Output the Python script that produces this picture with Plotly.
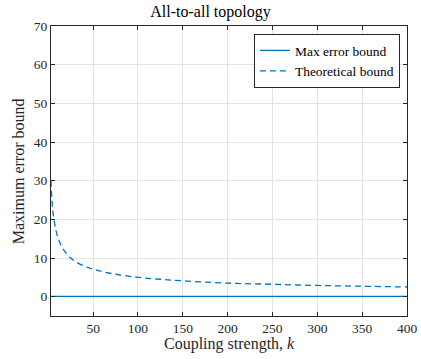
import plotly.graph_objects as go

k_vals = [3, 4, 5, 6, 8, 10, 13, 16, 20, 25, 30, 40, 50, 60, 75, 100, 125, 150, 200, 250, 300, 350, 400]
theoretical = [30, 25, 22.4, 20.4, 17.7, 15.8, 13.9, 12.5, 11.2, 10, 9.1, 7.9, 7.1, 6.5, 5.8, 5.0, 4.5, 4.1, 3.5, 3.2, 2.9, 2.7, 2.5]
max_error = [0.05] * len(k_vals)

x_ticks = [50, 100, 150, 200, 250, 300, 350, 400]
y_ticks = [0, 10, 20, 30, 40, 50, 60, 70]

blue = "#0072BD"
font_family = "Liberation Serif"

fig = go.Figure()
fig.add_trace(go.Scatter(x=k_vals, y=max_error, mode="lines", name="Max error bound",
                         line=dict(color=blue, width=1.3)))
fig.add_trace(go.Scatter(x=k_vals, y=theoretical, mode="lines", name="Theoretical bound",
                         line=dict(color=blue, width=1.3, dash="6px,4px"), line_shape="spline"))

axis_common = dict(showline=True, linecolor="#262626", linewidth=1, mirror="allticks",
                   ticks="inside", ticklen=4, tickcolor="#262626", automargin=False,
                   showgrid=True, gridcolor="#e3e3e3", gridwidth=1, zeroline=False,
                   tickfont=dict(family=font_family, size=13.5, color="#262626"))

fig.update_layout(
    width=421, height=359,
    margin=dict(l=51, r=14, t=26, b=43),
    paper_bgcolor="white", plot_bgcolor="white",
    font=dict(family=font_family, color="#262626"),
    title=dict(text="All-to-all topology", x=0.5, xanchor="center", y=0.985, yanchor="top",
               font=dict(family=font_family, size=16, color="#000000")),
    xaxis=dict(range=[3, 400], tickvals=x_ticks, **axis_common),
    yaxis=dict(range=[-5, 70], tickvals=y_ticks, **axis_common),
    annotations=[
        dict(text="Coupling strength, <i>k</i>", xref="paper", yref="paper", x=0.5, y=-0.06,
             xanchor="center", yanchor="top", showarrow=False,
             font=dict(family=font_family, size=16, color="#262626")),
        dict(text="Maximum error bound", xref="paper", yref="paper", x=-0.092, y=0.5,
             xanchor="center", yanchor="middle", textangle=-90, showarrow=False,
             font=dict(family=font_family, size=16, color="#262626")),
    ],
    legend=dict(x=0.98, y=0.972, xanchor="right", yanchor="top",
                bgcolor="white", bordercolor="#262626", borderwidth=1,
                font=dict(family=font_family, size=13.5, color="#000000"),
                tracegroupgap=0, itemwidth=30),
    showlegend=True,
)

fig.write_html("out.html")
